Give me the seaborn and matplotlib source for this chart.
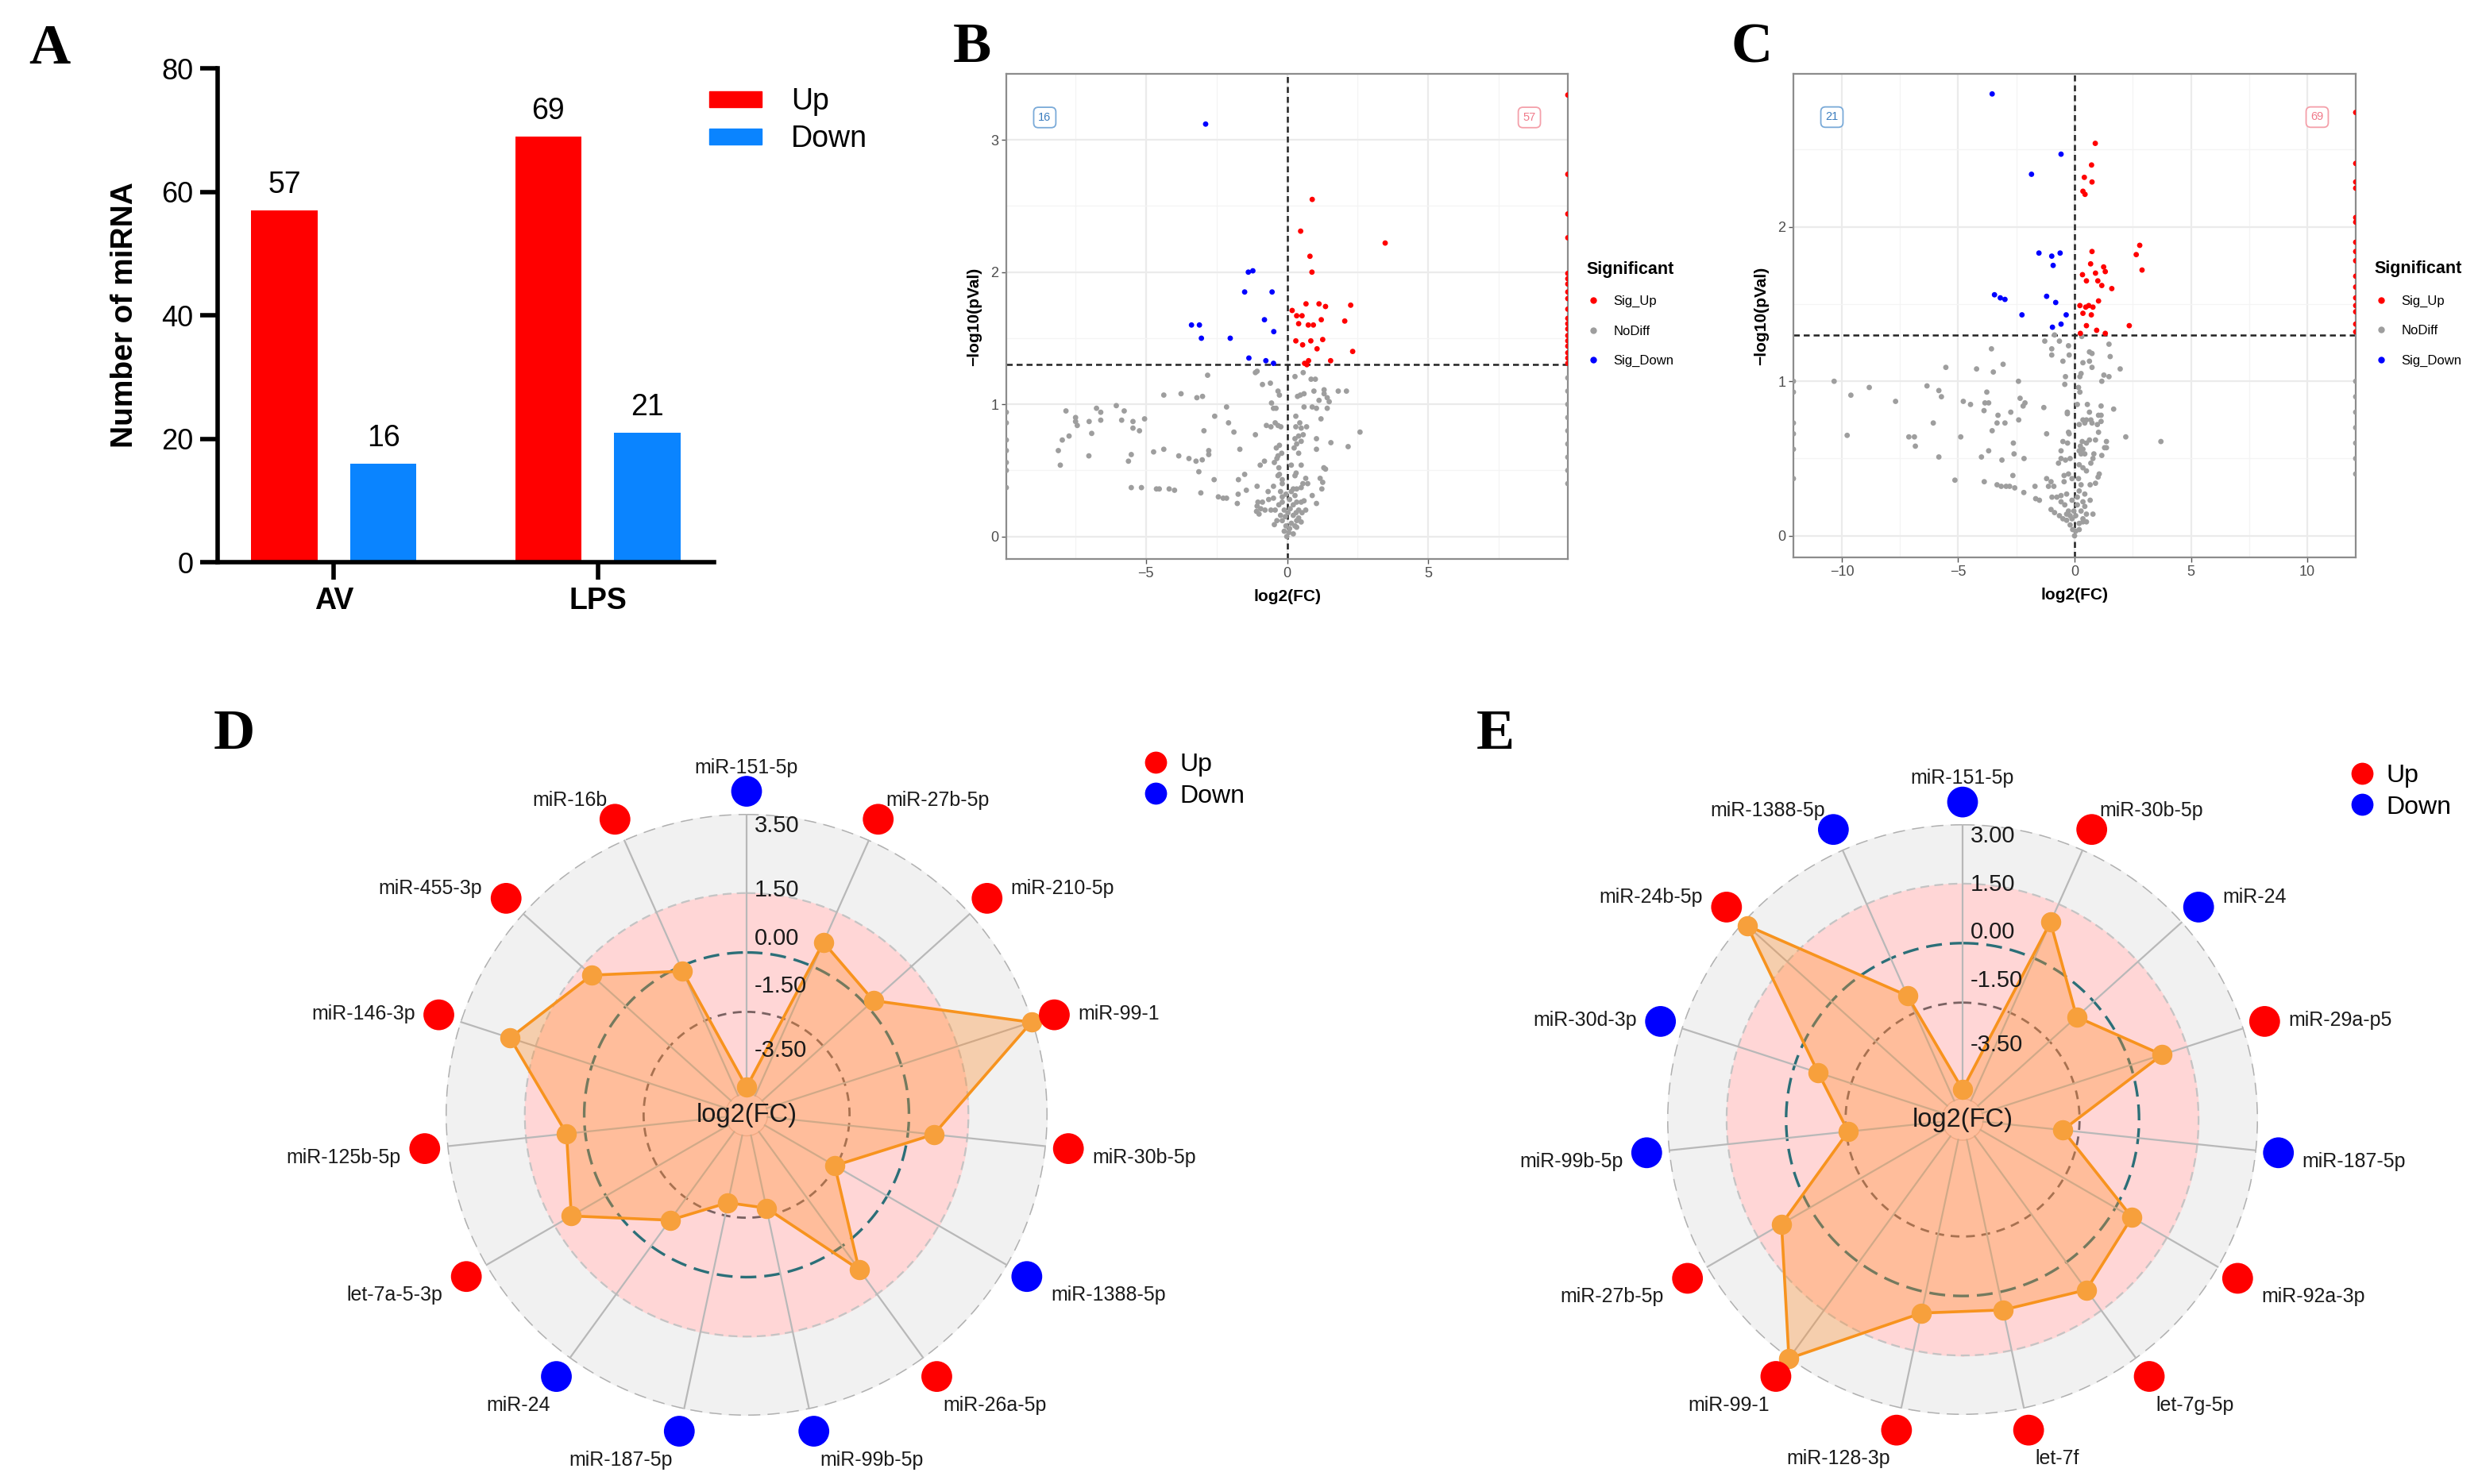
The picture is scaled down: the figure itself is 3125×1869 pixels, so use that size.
import numpy as np
import pandas as pd
import seaborn as sns
import matplotlib.pyplot as plt
from matplotlib.lines import Line2D
from matplotlib.patches import Patch

SANS = ['Liberation Sans', 'DejaVu Sans']
SERIF = ['Liberation Serif', 'DejaVu Serif']
plt.rcParams['font.family'] = SANS

# ---------------------------------------------------------------
# A: counts of differentially expressed miRNA
groups = ['AV', 'LPS']
up_counts = [57, 69]
down_counts = [16, 21]

# B / C: volcano plots, (log2FC, -log10 pVal); inf = squished to the border
INF = np.inf
b_up = [(0.89, 2.55), (0.48, 2.31), (3.47, 2.22), (0.81, 2.12), (0.88, 2.00), (0.67, 1.76),
        (1.13, 1.76), (1.36, 1.74), (2.25, 1.75), (0.18, 1.71), (0.34, 1.67), (0.53, 1.67),
        (0.41, 1.61), (0.75, 1.60), (0.93, 1.60), (1.21, 1.64), (2.04, 1.63), (0.31, 1.48),
        (0.84, 1.48), (1.26, 1.49), (0.55, 1.45), (1.06, 1.42), (2.32, 1.40), (0.76, 1.33),
        (0.62, 1.31), (0.70, 1.30), (1.54, 1.33)]
b_up += [(INF, y) for y in [3.34, 2.74, 2.44, 2.26, 1.99, 1.95, 1.91, 1.85, 1.80, 1.72,
                            1.65, 1.61, 1.57, 1.52, 1.48, 1.44, 1.39, 1.35, 1.31]]
b_down = [(-2.88, 3.12), (-1.37, 2.00), (-1.21, 2.01), (-1.50, 1.85), (-0.53, 1.85),
          (-0.80, 1.64), (-3.38, 1.60), (-3.10, 1.60), (-3.03, 1.50), (-2.01, 1.50),
          (-0.47, 1.55), (-1.35, 1.35), (-0.75, 1.33), (-0.48, 1.31)]
b_nodiff = [(-2.81, 1.22), (-1.12, 1.24), (-1.06, 1.25), (-0.87, 1.15), (-0.59, 1.16), (0.28, 1.21),
            (0.57, 1.24), (0.85, 1.19), (1.00, 1.19), (-4.36, 1.07), (-3.75, 1.08), (-3.19, 1.05),
            (-2.99, 1.06), (-2.14, 0.98), (-7.82, 0.95), (-7.48, 0.90), (-7.48, 0.87), (-7.42, 0.84),
            (-6.74, 0.97), (-6.59, 0.94), (-7.00, 0.87), (-6.59, 0.88), (-6.04, 0.99), (-5.76, 0.95),
            (-5.85, 0.88), (-5.45, 0.87), (-5.04, 0.89), (-5.45, 0.82), (-5.22, 0.80), (-6.91, 0.78),
            (-7.95, 0.73), (-7.71, 0.76), (-8.09, 0.65), (-8.02, 0.54), (-7.01, 0.61), (-5.51, 0.62),
            (-5.61, 0.57), (-4.72, 0.64), (-4.36, 0.66), (-3.83, 0.61), (-3.47, 0.59), (-3.22, 0.57),
            (-3.00, 0.58), (-2.77, 0.65), (-2.77, 0.62), (-3.12, 0.49), (-2.56, 0.91), (-2.94, 0.80),
            (-2.07, 0.86), (-1.88, 0.79), (-1.12, 0.77), (-1.67, 0.66), (-2.58, 0.43), (-1.72, 0.43),
            (-1.50, 0.47), (-5.51, 0.37), (-5.15, 0.37), (-4.62, 0.36), (-4.52, 0.36), (-4.17, 0.36),
            (-3.98, 0.35), (-3.05, 0.33), (-2.43, 0.30), (-2.26, 0.29), (-2.14, 0.29), (-1.73, 0.32),
            (-1.44, 0.35), (-1.76, 0.25), (-1.06, 0.38), (-0.95, 0.54), (-0.80, 0.57), (-0.45, 0.56),
            (-0.36, 0.59), (-0.32, 0.61), (-0.38, 0.67), (-0.27, 0.69), (-0.19, 0.63), (-0.73, 0.84),
            (-0.57, 0.83), (-0.42, 0.86), (-0.32, 0.84), (-0.22, 0.83), (-0.55, 1.01), (-0.48, 0.97),
            (-0.39, 0.97), (-0.32, 1.10), (-0.27, 1.07), (0.37, 1.06), (0.47, 1.07), (0.60, 1.08),
            (0.60, 0.98), (0.31, 0.91), (0.95, 1.10), (1.31, 1.11), (1.31, 1.08), (1.42, 1.05),
            (1.81, 1.10), (2.10, 1.10), (1.13, 1.03), (1.49, 1.02), (1.42, 0.97), (0.89, 0.98),
            (1.04, 0.97), (1.20, 0.89), (2.58, 0.79), (0.45, 0.86), (0.31, 0.83), (0.69, 0.83),
            (0.50, 0.82), (0.41, 0.76), (0.57, 0.77), (0.28, 0.74), (0.50, 0.72), (0.34, 0.70),
            (1.04, 0.74), (1.55, 0.71), (1.04, 0.66), (2.16, 0.68), (0.25, 0.67), (0.41, 0.63),
            (0.15, 0.54), (0.50, 0.54), (1.30, 0.52), (1.36, 0.51), (0.32, 0.48), (0.28, 0.46),
            (-0.29, 0.52), (-0.27, 0.47), (-0.32, 0.46), (-0.17, 0.43), (-0.17, 0.40), (0.66, 0.44),
            (0.56, 0.40), (0.73, 0.40), (1.17, 0.44), (1.26, 0.41), (1.23, 0.36), (0.34, 0.36),
            (0.50, 0.37), (0.22, 0.36), (-0.48, 0.38), (-0.67, 0.34), (-0.23, 0.34), (-0.17, 0.30),
            (0.89, 0.31), (1.04, 0.25), (0.66, 0.20), (-1.03, 0.26), (-1.06, 0.23), (-0.93, 0.21),
            (-1.08, 0.19), (-0.99, 0.17), (-0.01, 0.00), (-0.10, 0.04), (0.06, 0.03), (-0.04, 0.08),
            (-0.17, 0.12), (0.15, 0.10), (0.28, 0.08), (0.34, 0.12), (0.22, 0.16), (0.03, 0.18),
            (-0.10, 0.20), (0.41, 0.20), (0.34, 0.26), (0.50, 0.26), (0.60, 0.27), (0.22, 0.24),
            (0.09, 0.28), (-0.17, 0.26), (-0.04, 0.32), (0.15, 0.34), (0.28, 0.31), (-0.23, 0.16),
            (-0.36, 0.12), (-0.45, 0.09), (0.34, 0.07), (0.22, 0.02), (0.09, 0.06), (-0.06, 0.15),
            (0.11, 0.21), (0.41, 0.14), (0.53, 0.18), (-0.29, 0.24), (-0.42, 0.20), (-0.57, 0.20),
            (-0.78, 0.20), (-0.65, 0.28), (-0.48, 0.29), (-0.87, 0.26), (0.50, 0.11), (0.32, 0.18)]
b_nodiff += [(-INF, y) for y in [0.94, 0.86, 0.73, 0.65, 0.56, 0.50, 0.37]]
b_nodiff += [(INF, y) for y in [1.20, 1.10, 1.00, 0.90, 0.80, 0.70, 0.60, 0.50, 0.40]]

c_up = [(0.89, 2.54), (0.73, 2.40), (0.42, 2.32), (0.75, 2.29), (0.36, 2.23), (0.45, 2.21),
        (2.80, 1.88), (2.65, 1.82), (2.90, 1.72), (0.75, 1.84), (0.69, 1.76), (1.25, 1.74),
        (1.32, 1.71), (0.34, 1.69), (0.90, 1.70), (0.51, 1.65), (1.00, 1.65), (1.17, 1.62),
        (1.60, 1.60), (1.03, 1.52), (0.23, 1.49), (0.48, 1.48), (0.61, 1.49), (0.79, 1.48),
        (0.36, 1.44), (0.72, 1.43), (0.51, 1.36), (0.95, 1.33), (2.35, 1.36), (0.25, 1.31),
        (1.32, 1.31)]
c_up += [(INF, y) for y in [2.74, 2.41, 2.29, 2.25, 2.06, 2.03, 1.90, 1.84, 1.78, 1.68,
                            1.61, 1.54, 1.49, 1.45, 1.37, 1.32]]
c_down = [(-3.54, 2.86), (-0.58, 2.47), (-1.85, 2.34), (-1.53, 1.83), (-0.98, 1.81), (-0.62, 1.83),
          (-0.92, 1.75), (-3.44, 1.56), (-3.19, 1.54), (-2.99, 1.53), (-1.20, 1.55), (-0.81, 1.51),
          (-2.26, 1.43), (-0.36, 1.43), (-0.95, 1.35), (-0.58, 1.37)]
c_nodiff = [(-1.28, 1.26), (-0.86, 1.30), (-0.65, 1.26), (-3.57, 1.21), (-0.98, 1.21), (-0.98, 1.17),
            (-0.26, 1.23), (-0.23, 1.17), (-0.50, 1.13), (-3.07, 1.11), (-5.53, 1.09), (-4.21, 1.08),
            (-3.49, 1.06), (0.31, 1.29), (1.48, 1.24), (0.64, 1.19), (0.75, 1.18), (1.53, 1.16),
            (0.36, 1.12), (0.64, 1.13), (0.75, 1.09), (1.96, 1.08), (0.28, 1.05), (0.23, 1.03),
            (-0.39, 1.03), (1.26, 1.04), (1.48, 1.03), (1.17, 1.00), (-10.33, 1.00), (-2.41, 1.00),
            (-8.82, 0.96), (-9.61, 0.91), (-7.69, 0.87), (-6.34, 0.97), (-5.83, 0.94), (-5.72, 0.90),
            (-3.77, 0.93), (-0.42, 0.98), (0.17, 0.96), (0.23, 0.93), (-2.34, 0.89), (-2.13, 0.86),
            (-2.21, 0.84), (-4.78, 0.87), (-4.47, 0.85), (-3.85, 0.86), (-3.69, 0.86), (-3.89, 0.81),
            (-1.32, 0.83), (-2.74, 0.80), (-3.29, 0.78), (-3.33, 0.73), (-2.99, 0.73), (-2.40, 0.75),
            (-0.31, 0.80), (-0.31, 0.79), (0.12, 0.85), (0.55, 0.85), (0.64, 0.80), (1.14, 0.84),
            (1.14, 0.78), (1.03, 0.78), (1.68, 0.82), (0.36, 0.75), (0.51, 0.75), (0.70, 0.75),
            (0.20, 0.72), (0.44, 0.73), (0.75, 0.73), (0.98, 0.72), (1.14, 0.74), (-6.07, 0.73),
            (-3.54, 0.68), (-9.77, 0.65), (-7.12, 0.64), (-6.88, 0.64), (-6.84, 0.58), (-4.89, 0.64),
            (-1.20, 0.66), (-0.26, 0.67), (-0.23, 0.66), (-0.50, 0.61), (-0.30, 0.60), (1.03, 0.67),
            (0.90, 0.62), (0.64, 0.62), (0.51, 0.60), (1.37, 0.61), (1.29, 0.57), (1.37, 0.57),
            (2.20, 0.64), (3.71, 0.61), (0.33, 0.61), (0.25, 0.58), (0.36, 0.56), (0.28, 0.53),
            (1.17, 0.52), (-2.63, 0.60), (-2.60, 0.53), (-2.17, 0.50), (-3.69, 0.55), (-4.00, 0.51),
            (-3.12, 0.49), (-5.83, 0.51), (-0.58, 0.55), (-0.58, 0.50), (-0.69, 0.47), (-0.19, 0.50),
            (-0.39, 0.49), (0.20, 0.55), (0.44, 0.53), (0.70, 0.47), (0.79, 0.50), (0.83, 0.53),
            (0.20, 0.46), (0.36, 0.44), (0.51, 0.42), (1.06, 0.40), (1.01, 0.38), (-5.14, 0.36),
            (-3.88, 0.35), (-3.33, 0.33), (-3.15, 0.32), (-2.94, 0.32), (-2.79, 0.32), (-2.57, 0.31),
            (-2.18, 0.28), (-2.65, 0.39), (-1.70, 0.32), (-1.20, 0.37), (-1.01, 0.35), (-1.12, 0.32),
            (-0.89, 0.32), (-1.67, 0.24), (-1.51, 0.23), (-0.45, 0.39), (-0.45, 0.35), (-0.26, 0.40),
            (-0.11, 0.37), (0.17, 0.37), (0.28, 0.33), (0.67, 0.33), (0.90, 0.34), (-0.97, 0.25),
            (-0.76, 0.25), (-0.58, 0.26), (-0.34, 0.27), (0.20, 0.29), (0.44, 0.27), (0.67, 0.23),
            (0.36, 0.22), (0.79, 0.14), (-1.01, 0.17), (-0.86, 0.15), (-0.65, 0.13), (-0.50, 0.11),
            (-0.34, 0.10), (-0.19, 0.07), (-0.08, 0.04), (0.00, 0.00), (0.20, 0.08), (0.36, 0.11),
            (0.51, 0.14), (0.28, 0.16), (0.05, 0.13), (-0.11, 0.11), (-0.26, 0.16), (-0.42, 0.20),
            (-0.58, 0.22), (0.12, 0.20), (0.44, 0.19), (-0.11, 0.23), (0.12, 0.25), (0.36, 0.09),
            (0.20, 0.04), (0.05, 0.03), (-0.19, 0.13), (-0.34, 0.14), (-0.03, 0.16), (0.51, 0.09)]
c_nodiff += [(-INF, y) for y in [1.00, 0.93, 0.73, 0.66, 0.56, 0.37]]
c_nodiff += [(INF, y) for y in [1.00, 0.90, 0.80, 0.70, 0.60, 0.50, 0.40]]

# D / E: radar charts of log2(FC)
d_labels = ['miR-151-5p', 'miR-27b-5p', 'miR-210-5p', 'miR-99-1', 'miR-30b-5p', 'miR-1388-5p',
            'miR-26a-5p', 'miR-99b-5p', 'miR-187-5p', 'miR-24', 'let-7a-5-3p', 'miR-125b-5p',
            'miR-146-3p', 'miR-455-3p', 'miR-16b']
d_values = [-3.40, 0.67, 0.21, 3.46, 0.65, -1.53, 0.73, -1.69, -1.83, -0.81, 1.01, 0.47, 2.18, 1.17, -0.13]
d_direction = ['Down', 'Up', 'Up', 'Up', 'Up', 'Down', 'Up', 'Down', 'Down', 'Down',
               'Up', 'Up', 'Up', 'Up', 'Up']
d_rings = [3.5, 1.5, 0.0, -1.5, -3.5]

e_labels = ['miR-151-5p', 'miR-30b-5p', 'miR-24', 'miR-29a-p5', 'miR-187-5p', 'miR-92a-3p',
            'let-7g-5p', 'let-7f', 'miR-128-3p', 'miR-99-1', 'miR-27b-5p', 'miR-99b-5p',
            'miR-30d-3p', 'miR-24b-5p', 'miR-1388-5p']
e_values = [-3.69, 1.00, -0.58, 0.84, -1.91, 0.48, 0.86, 0.46, 0.54, 3.00, 0.82, -1.55, -0.62, 2.86, -1.03]
e_direction = ['Down', 'Up', 'Down', 'Up', 'Down', 'Up', 'Up', 'Up', 'Up', 'Up',
               'Up', 'Down', 'Down', 'Up', 'Down']
e_rings = [3.0, 1.5, 0.0, -1.5, -3.5]

UPDOWN = {'Up': '#ff0000', 'Down': '#0000ff'}
SIG = {'Sig_Up': '#ff0000', 'NoDiff': '#9e9e9e', 'Sig_Down': '#0000ff'}

W, H = 3125, 1869
fig = plt.figure(figsize=(W / 100, H / 100), dpi=100)


def box(l, t, r, b):
    return [l / W, 1 - b / H, (r - l) / W, (b - t) / H]


def letter(x, y, s):
    fig.text(x / W, 1 - y / H, s, family=SERIF, fontweight='bold', fontsize=52,
             ha='center', va='center')


# ---------------------------------------------------------------
# A
axA = fig.add_axes(box(274, 86, 899, 708))
bars = pd.DataFrame({'group': groups * 2,
                     'direction': ['Up'] * 2 + ['Down'] * 2,
                     'count': up_counts + down_counts})
sns.barplot(data=bars, x='group', y='count', hue='direction', order=groups,
            hue_order=['Up', 'Down'], palette={'Up': '#ff0000', 'Down': '#0a84ff'},
            width=0.75, gap=0.33, saturation=1, errorbar=None, legend=False, ax=axA)
for cont in axA.containers:
    axA.bar_label(cont, padding=10, fontsize=27)
axA.set_ylim(0, 80)
axA.set_xlim(-0.44, 1.44)
axA.set_yticks([0, 20, 40, 60, 80])
axA.spines[['top', 'right']].set_visible(False)
axA.spines[['left', 'bottom']].set_linewidth(4)
axA.tick_params(axis='both', length=16, width=4, labelsize=26, pad=6)
for lab in axA.get_xticklabels():
    lab.set_fontweight('bold')
    lab.set_fontsize(27)
axA.set_xlabel('')
axA.set_ylabel('Number of miRNA', fontsize=28, fontweight='bold', labelpad=20)
axA.legend(handles=[Patch(color='#ff0000', label='Up'), Patch(color='#0a84ff', label='Down')],
           loc='upper left', bbox_to_anchor=(893 / W, 1 - 110 / H),
           bbox_transform=fig.transFigure, frameon=False, fontsize=27,
           handlelength=1.75, handleheight=0.45, handletextpad=1.0, labelspacing=0.3,
           borderpad=0, borderaxespad=0)
letter(62, 62, 'A')


# ---------------------------------------------------------------
# B, C
def volcano(ax, up, down, nodiff, lim, ylim, xticks, xminor, yticks, yminor,
            n_down, n_up, count_y):
    rows = ([(x, y, 'NoDiff') for x, y in nodiff] + [(x, y, 'Sig_Up') for x, y in up]
            + [(x, y, 'Sig_Down') for x, y in down])
    df = pd.DataFrame(rows, columns=['log2FC', 'nlogp', 'Significant'])
    df['log2FC'] = df['log2FC'].clip(-lim, lim)
    sns.scatterplot(data=df, x='log2FC', y='nlogp', hue='Significant', palette=SIG,
                    s=24, linewidth=0, legend=False, ax=ax, zorder=3)
    ax.set_xlim(-lim, lim)
    ax.set_ylim(*ylim)
    ax.set_xticks(xticks)
    ax.set_xticks(xminor, minor=True)
    ax.set_yticks(yticks)
    ax.set_yticks(yminor, minor=True)
    ax.set_axisbelow(True)
    ax.grid(which='major', color='#ebebeb', lw=1.6)
    ax.grid(which='minor', color='#f4f4f4', lw=0.9)
    for sp in ax.spines.values():
        sp.set_color('#8c8c8c')
        sp.set_linewidth(1.6)
    ax.tick_params(which='major', length=4, width=1, color='#555555', labelsize=13,
                   labelcolor='#4d4d4d', pad=3)
    ax.tick_params(which='minor', length=0)
    ax.axvline(0, color='#222222', lw=1.8, ls=(0, (3, 2)), zorder=2)
    ax.axhline(-np.log10(0.05), color='#222222', lw=1.8, ls=(0, (3, 2)), zorder=2)
    ax.set_xlabel('log2(FC)', fontsize=15, fontweight='bold', labelpad=8)
    ax.set_ylabel('\u2212log10(pVal)', fontsize=15, fontweight='bold', labelpad=8)
    ax.text(-0.863 * lim, count_y, str(n_down), color='#3b7dbf', fontsize=10.5, ha='center',
            va='center', bbox=dict(boxstyle='round,pad=0.4', fc='white', ec='#7aaad8', lw=1.3))
    ax.text(0.863 * lim, count_y, str(n_up), color='#f07a8a', fontsize=10.5, ha='center',
            va='center', bbox=dict(boxstyle='round,pad=0.4', fc='white', ec='#f4a0aa', lw=1.3))
    handles = [Line2D([], [], ls='', marker='o', markersize=6, markeredgewidth=0,
                      color=SIG[k], label=k) for k in ['Sig_Up', 'NoDiff', 'Sig_Down']]
    leg = ax.legend(handles=handles, title='Significant', loc='upper left',
                    bbox_to_anchor=(1.022, 0.628), frameon=False, fontsize=12,
                    title_fontproperties={'weight': 'bold', 'size': 15.5},
                    handlelength=1.0, handletextpad=1.0, labelspacing=1.35,
                    borderpad=0, alignment='left')
    return leg


axB = fig.add_axes(box(1267, 93, 1974, 704))
volcano(axB, b_up, b_down, b_nodiff, 9.93, (-0.17, 3.5), [-5, 0, 5], [-7.5, -2.5, 2.5, 7.5],
        [0, 1, 2, 3], [0.5, 1.5, 2.5], 16, 57, 3.17)
letter(1224, 61, 'B')

axC = fig.add_axes(box(2258, 93, 2966, 702))
volcano(axC, c_up, c_down, c_nodiff, 12.08, (-0.14, 2.99), [-10, -5, 0, 5, 10],
        [-7.5, -2.5, 2.5, 7.5], [0, 1, 2], [0.5, 1.5, 2.5], 21, 69, 2.71)
letter(2206, 61, 'C')


# ---------------------------------------------------------------
# D, E
def radar(ax, labels, values, direction, vmin, vmax, rings):
    n = len(labels)
    ang = np.arange(n) * 2 * np.pi / n
    ax.set_theta_offset(np.pi / 2)
    ax.set_theta_direction(-1)
    ax.set_ylim(vmin, vmax)
    ax.set_axis_off()
    th = np.linspace(0, 2 * np.pi, 600)
    span = vmax - vmin
    ax.fill_between(th, vmin, vmax, color='#f1f1f1', zorder=0)
    ax.fill_between(th, vmin, 1.5, color='#ffd6d6', zorder=1)
    ax.plot(th, np.full_like(th, vmax), color='#b0b0b0', lw=2.2, ls=(0, (5, 3)), zorder=2)
    ax.plot(th, np.full_like(th, 1.5), color='#c4c4c4', lw=1.6, ls=(0, (5, 3)), zorder=2)
    ax.plot(th, np.full_like(th, 0.0), color='#2b6f78', lw=2.4, ls=(0, (6, 3)), zorder=2)
    ax.plot(th, np.full_like(th, -1.5), color='#7a6262', lw=2.0, ls=(0, (4, 3)), zorder=2)
    r0 = vmin + 0.07 * span
    ax.plot(th, np.full_like(th, r0), color='#e8b8b0', lw=1.0, zorder=2)
    for a in ang:
        ax.plot([a, a], [r0, vmax], color='#b8b8b8', lw=1.6, zorder=2)
    a_c = np.append(ang, ang[0])
    v_c = np.append(values, values[0])
    ax.fill(a_c, v_c, color='#ff8f2f', alpha=0.35, lw=0, zorder=3)
    ax.plot(a_c, v_c, color='#f7931e', lw=2.6, zorder=4)
    ax.scatter(ang, values, s=300, color='#f7a03c', zorder=5, clip_on=False)
    r_dot = vmin + 1.075 * span
    ax.scatter(ang, np.full(n, r_dot), s=780, c=[UPDOWN[d] for d in direction],
               zorder=6, clip_on=False, linewidths=0)
    for a, lab in zip(ang, labels):
        phi = np.pi / 2 - a
        c, s = np.cos(phi), np.sin(phi)
        side = 1 if c > 0 else -1
        ha = 'left' if c > 0 else 'right'
        if abs(c) < 0.1:
            dx, dy, ha = 0, 30, 'center'
        elif s > 0.75:
            dx, dy = 10 * side, 24
        elif s < -0.75:
            dx, dy = 8 * side, -36
        else:
            dx, dy = 30 * side, 30 * s - 8
        ax.annotate(lab, xy=(a, r_dot), xytext=(dx * 0.72, dy * 0.72), textcoords='offset points',
                    ha=ha, va='center', fontsize=18, color='#1a1a1a', annotation_clip=False,
                    zorder=7)
    # ring labels sit a little toward the middle band, as in the source figure
    for v in rings:
        frac = 0.81 * (v - vmin) / span + 0.15
        ax.annotate(f'{v:.2f}', xy=(0, vmin + frac * span), xytext=(7, 0),
                    textcoords='offset points', ha='left', va='center', fontsize=21,
                    color='#1a1a1a', zorder=7)
    ax.text(0, vmin, 'log2(FC)', ha='center', va='center', fontsize=23.5, color='#1a1a1a',
            zorder=7)


def updown_legend(x_left, y_top):
    handles = [Line2D([], [], ls='', marker='o', markersize=20, markeredgewidth=0,
                      color=UPDOWN[k], label=k) for k in ['Up', 'Down']]
    fig.legend(handles=handles, loc='upper left', bbox_to_anchor=(x_left / W, 1 - y_top / H),
               frameon=False, fontsize=23, handlelength=0.9, handletextpad=0.5,
               labelspacing=0.3, borderpad=0, borderaxespad=0)


axD = fig.add_axes(box(940 - 379, 1404 - 379, 940 + 379, 1404 + 379), projection='polar')
radar(axD, d_labels, d_values, d_direction, -4.1, 3.5, d_rings)
updown_legend(1441, 948)
letter(295, 925, 'D')

axE = fig.add_axes(box(2471 - 372, 1410 - 372, 2471 + 372, 1410 + 372), projection='polar')
radar(axE, e_labels, e_values, e_direction, -4.45, 3.0, e_rings)
updown_legend(2960, 962)
letter(1883, 925, 'E')

fig.savefig('out.png', dpi=100)
